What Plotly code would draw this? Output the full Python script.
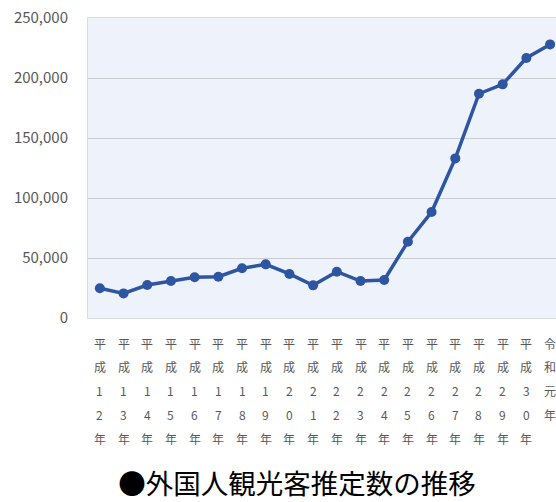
import plotly.graph_objects as go

categories = ["平成12年", "平成13年", "平成14年", "平成15年", "平成16年", "平成17年",
              "平成18年", "平成19年", "平成20年", "平成21年", "平成22年", "平成23年",
              "平成24年", "平成25年", "平成26年", "平成27年", "平成28年", "平成29年",
              "平成30年", "令和元年"]
visitors = [24800, 20500, 27500, 30800, 33900, 34400, 41400, 44700, 36700, 27200,
            38600, 30800, 31700, 63600, 88300, 133000, 186900, 194700, 216700, 228000]
y_ticks = [0, 50000, 100000, 150000, 200000, 250000]
title_text = "●外国人観光客推定数の推移"

LINE = "#2E55A1"
GRID = "#C9CCD1"
TXT = "#595959"
FONT = "Noto Sans CJK JP"

fig = go.Figure()
fig.add_trace(go.Scatter(
    x=list(range(len(categories))), y=visitors, mode="lines+markers",
    line=dict(color=LINE, width=3.5),
    marker=dict(color=LINE, size=10),
    showlegend=False, cliponaxis=False,
))

# vertical (one character per line) category labels
row_gap = 23.8
annotations = []
for i, cat in enumerate(categories):
    for j, ch in enumerate(cat):
        annotations.append(dict(
            x=i, xref="x", y=0, yref="paper", text=ch, showarrow=False,
            yanchor="middle", xanchor="center", yshift=-(25 + j * row_gap),
            font=dict(family=FONT, size=12, color=TXT),
        ))

fig.update_layout(
    width=556, height=502,
    margin=dict(l=88, r=0, t=18, b=184, autoexpand=False),
    paper_bgcolor="white", plot_bgcolor="#EEF2FA",
    font=dict(family=FONT, color=TXT),
    xaxis=dict(range=[-0.5, 19.25], showticklabels=False, showgrid=False, zeroline=False,
               showline=True, linecolor="#D9DCE1", linewidth=1, mirror=True, ticks="",
               automargin=False),
    yaxis=dict(range=[0, 250000], tickvals=y_ticks, tickformat=",d",
               showgrid=True, gridcolor=GRID, gridwidth=1.2, zeroline=False,
               showline=True, linecolor="#D9DCE1", linewidth=1, mirror=True,
               ticks="", ticklabelstandoff=16, automargin=False,
               tickfont=dict(family=FONT, size=15, color=TXT)),
    title=dict(text=title_text, x=0.534, xref="container", xanchor="center",
               y=1 - 484 / 502, yref="container", yanchor="middle",
               font=dict(family=FONT, size=27.5, color="#000000")),
    annotations=annotations,
)

fig.write_html("out.html", config={"displayModeBar": False},
               post_script="document.body.style.margin='0';document.body.style.padding='0';")
